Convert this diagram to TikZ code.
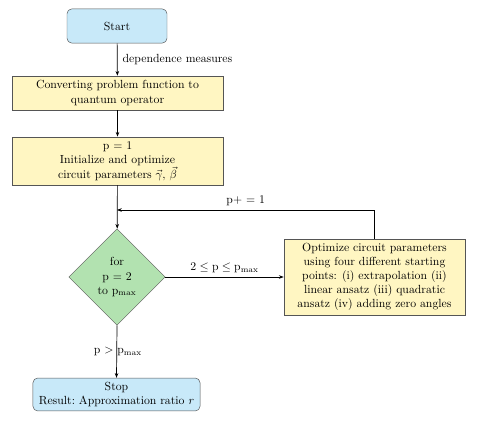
\documentclass[tikz,border=0pt]{standalone}
\usetikzlibrary{shapes.geometric,arrows.meta}
\definecolor{startblue}{HTML}{C8E9F9}
\definecolor{procyellow}{HTML}{FFF6C2}
\definecolor{decgreen}{HTML}{B2E2B0}
\definecolor{bordergray}{HTML}{555555}
\begin{document}
\begin{tikzpicture}[x=0.85pt,y=-0.85pt,
  terminal/.style={draw=bordergray,fill=startblue,rounded corners=4pt,align=center,inner sep=2pt},
  process/.style={draw=bordergray,fill=procyellow,align=center,inner sep=2pt},
  decision/.style={draw=bordergray,fill=decgreen,diamond,aspect=1,minimum size=82pt,inner sep=0pt,align=center},
  conn/.style={draw=black,line width=0.6pt,-{Stealth[length=4pt,width=3pt]}},
  lbl/.style={font=\normalsize}]
\useasboundingbox (0,0) rectangle (478,422);
\node[terminal,minimum width=85pt,minimum height=29pt] (start) at (117,26) {Start};
\node[process,minimum width=179pt,minimum height=29pt] (conv) at (117.5,93) {Converting problem function to\\quantum operator};
\node[process,minimum width=179pt,minimum height=41pt] (init) at (117.5,161) {p $=$ 1\\Initialize and optimize\\[1pt]circuit parameters $\vec{\gamma}$, $\vec{\beta}$};
\node[decision] (dec) at (117,277) {for\\p $=$ 2\\to p$_\mathrm{max}$};
\node[process,minimum width=154pt,minimum height=65pt] (opt) at (374.5,277) {Optimize circuit parameters\\using four different starting\\points: (i) extrapolation (ii)\\linear ansatz (iii) quadratic\\ansatz (iv) adding zero angles};
\node[terminal,minimum width=142pt,minimum height=28pt] (stop) at (116.5,394.5) {Stop\\Result:\ Approximation ratio $r$};
\coordinate (fbr) at (374.5,210);
\coordinate (fbl) at (117,210);
\draw[conn] (start) -- node[right,lbl,xshift=1pt] {dependence measures} (conv);
\draw[conn] (conv) -- (init);
\draw[conn] (init) -- (dec);
\draw[conn] (opt.north) -- (fbr) -- node[above,lbl] {p+ $=$ 1} (fbl);
\draw[conn] (dec.east) -- node[above,lbl] {$2\leq{}$p${}\leq{}$p$_\mathrm{max}$} (opt.west);
\draw[conn] (dec.south) -- node[lbl,pos=0.5,xshift=1pt] {p $>$ p$_\mathrm{max}$} (stop.north);
\end{tikzpicture}
\end{document}
